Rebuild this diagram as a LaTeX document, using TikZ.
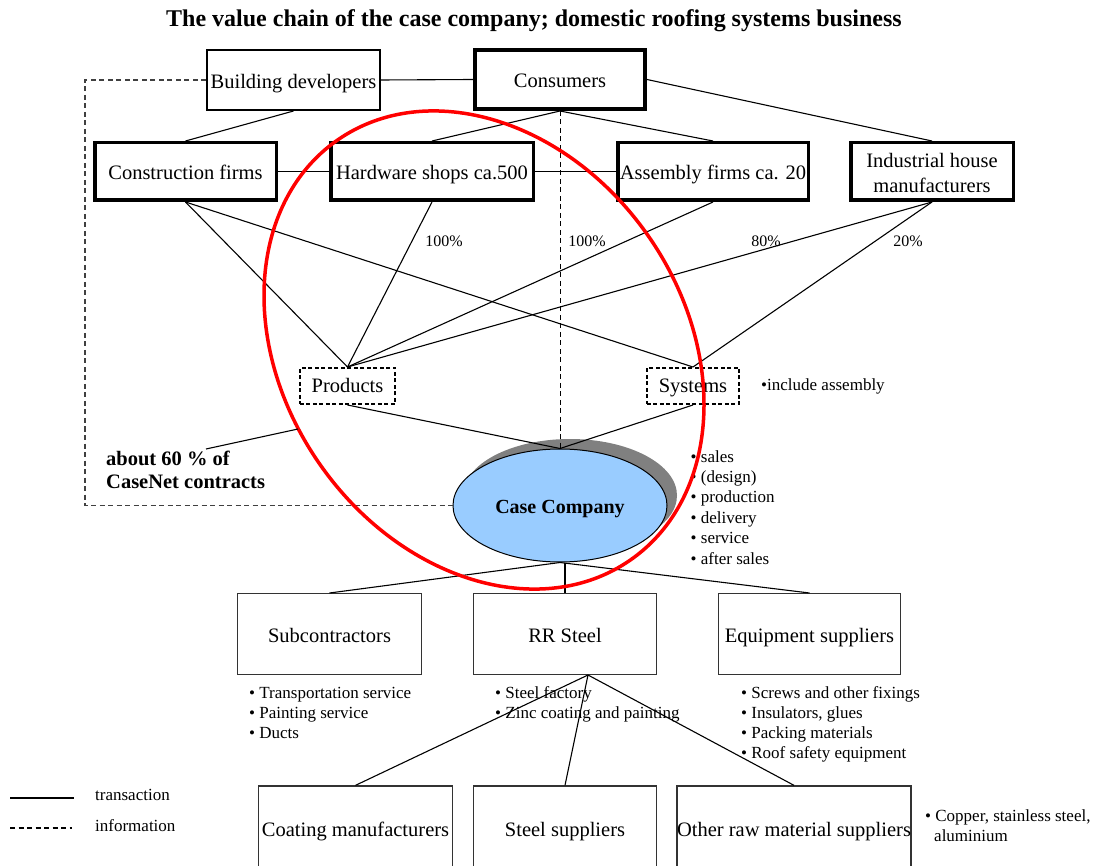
\documentclass[tikz,border=0pt]{standalone}
\usepackage{fontspec}
\setmainfont{Liberation Serif}
\usetikzlibrary{calc,shapes.geometric}
\definecolor{shadowgray}{RGB}{128,128,128}
\definecolor{ccblue}{RGB}{153,204,255}
\begin{document}
\begin{tikzpicture}[x=1pt,y=-1pt,
  boxfont/.style={font=\fontsize{20.5}{24.5}\selectfont},
  bulletfont/.style={font=\fontsize{17}{20}\selectfont},
  onetext/.style={text height=20pt, text depth=3pt},
  topbox/.style={draw, line width=3.5pt, boxfont, inner sep=0pt, align=center},
  lowbox/.style={draw=black!80, line width=1.3pt, boxfont, onetext, inner sep=0pt, minimum height=80.7},
  optbox/.style={draw, dash pattern=on 4pt off 2.5pt, line width=1.8pt, boxfont, text height=17.5pt, text depth=3.5pt, inner sep=0pt, minimum height=36.2},
  trans/.style={line width=1.1pt},
  info/.style={line width=1.2pt, dash pattern=on 5pt off 3.5pt, black!75},
  pct/.style={font=\fontsize{16}{19}\selectfont, anchor=base, inner sep=0pt},
  bulletline/.style={bulletfont, anchor=base west, inner sep=0pt},
  boldnote/.style={font=\bfseries\fontsize{20.5}{23}\selectfont, anchor=base west, inner sep=0pt},
]
\useasboundingbox (0,0) rectangle (1095,866);

% title
\node[anchor=base, inner sep=0pt, font=\bfseries\fontsize{24}{28}\selectfont] (title) at (534,27)
  {The value chain of the case company; domestic roofing systems business};

% customer side
\node[topbox, onetext, line width=2.4pt, minimum width=172.6, minimum height=59.6] (bd) at (293.5,80) {Building developers};
\node[topbox, onetext, line width=4pt, minimum width=170, minimum height=59] (cons) at (560,79.5) {Consumers};
\node[topbox, onetext, minimum width=181.5, minimum height=57.5] (cf) at (185.5,171.5) {Construction firms};
\node[topbox, onetext, minimum width=202.5, minimum height=57.5] (hw) at (432,171.5) {Hardware shops ca.500};
\node[topbox, onetext, minimum width=190.5, minimum height=57.5] (af) at (713,171.5) {Assembly firms ca. 20};
\node[topbox, minimum width=162.5, minimum height=57.5] (ihm) at (932,171.5) {\rule{0pt}{17pt}Industrial house\\manufacturers};

% offerings
\node[optbox, minimum width=95.2] (prod) at (347.5,386) {Products};
\node[optbox, minimum width=92.2] (sys) at (693,386) {Systems};

% the company itself
\fill[shadowgray] (570,495.5) ellipse [x radius=107, y radius=56.5];
\node[ellipse, draw, fill=ccblue, line width=1pt, minimum width=214, minimum height=113, inner sep=0pt,
      text height=18pt, text depth=3pt,
      font=\bfseries\fontsize{20}{24}\selectfont] (cc) at (560,505.5) {Case Company};

% supplier side
\node[lowbox, minimum width=183.7] (sub) at (329.5,634) {Subcontractors};
\node[lowbox, minimum width=182.7] (rr) at (565,634) {RR Steel};
\node[lowbox, minimum width=181.7] (eq) at (809.5,634) {Equipment suppliers};
\node[lowbox, minimum width=193.7, minimum height=84] (coat) at (355.5,828) {Coating manufacturers};
\node[lowbox, minimum width=182.7, minimum height=84] (steel) at (565,828) {Steel suppliers};
\node[lowbox, minimum width=232.7, minimum height=84] (other) at (794,828) {Other raw material suppliers};

% transactions
\draw[trans] (bd.east) -- (cons.west);
\draw[trans] (bd.south) -- (cf.north);
\draw[trans] (cons.south) -- (hw.north);
\draw[trans] (cons.south) -- (af.north);
\draw[trans] (cons.east) -- (ihm.north);
\draw[trans] (cf.east) -- (hw.west);
\draw[trans] (hw.east) -- (af.west);
\draw[trans] (cf.south) -- (prod.north);
\draw[trans] (cf.south) -- (sys.north);
\draw[trans] (hw.south) -- (prod.north);
\draw[trans] (af.south) -- (prod.north);
\draw[trans] (ihm.south) -- (prod.north);
\draw[trans] (ihm.south) -- (sys.north);
\draw[trans] (prod.south) -- (cc.north);
\draw[trans] (sys.south) -- (cc.north);
\draw[trans] (cc.south) -- (sub.north);
\draw[trans] (cc.south -| rr.north) -- (rr.north);
\draw[trans] (cc.south) -- (eq.north);
\coordinate (rrfoot) at ($(rr.south)+(23,0)$);
\draw[trans] (rrfoot) -- (coat.north);
\draw[trans] (rrfoot) -- (steel.north);
\draw[trans] (rrfoot) -- (other.north);

% information flows
\coordinate (dcorner) at (85,505.5);
\draw[info] (bd.west) -| (dcorner) -- (cc.west);
\draw[info, line width=1pt, black] (cons.south) -- (cc.north);

% shares
\node[pct] (p1) at (444,247) {100\%};
\node[pct] (p2) at (587,247) {100\%};
\node[pct] (p3) at (766,247) {80\%};
\node[pct] (p4) at (908,247) {20\%};

% notes
\node[bulletline] (incl) at (761,391) {•include assembly};
\node[bulletline] (cc1) at (690.5,462) {• sales};
\node[bulletline] (cc2) at (690.5,482.4) {• (design)};
\node[bulletline] (cc3) at (690.5,502.8) {• production};
\node[bulletline] (cc4) at (690.5,523.2) {• delivery};
\node[bulletline] (cc5) at (690.5,543.6) {• service};
\node[bulletline] (cc6) at (690.5,564) {• after sales};

\node[bulletline] (sb1) at (249,698) {• Transportation service};
\node[bulletline] (sb2) at (249,718) {• Painting service};
\node[bulletline] (sb3) at (249,738) {• Ducts};

\node[bulletline] (rs1) at (495,698) {• Steel factory};
\node[bulletline] (rs2) at (495,718) {• Zinc coating and painting};

\node[bulletline] (eq1) at (741,698) {• Screws and other fixings};
\node[bulletline] (eq2) at (741,718) {• Insulators, glues};
\node[bulletline] (eq3) at (741,738) {• Packing materials};
\node[bulletline] (eq4) at (741,758) {• Roof safety equipment};

\node[bulletline] (cu1) at (925,821) {• Copper, stainless steel,};
\node[bulletline] (cu2) at (934,841) {aluminium};

\node[boldnote] (share1) at (106,465) {about 60 \% of};
\node[boldnote] (share2) at (106,488) {CaseNet contracts};

% highlighted area
\begin{scope}[shift={(484,350)}, rotate=-55]
  \draw[red, line width=3.5pt] (0,0) ellipse [x radius=256, y radius=200];
\end{scope}
\coordinate (callA) at (206,449);
\coordinate (callB) at (298,429);
\draw[trans] (callA) -- (callB);

% legend
\coordinate (l1a) at (10,798);
\coordinate (l1b) at (74,798);
\draw[trans] (l1a) -- (l1b);
\node[bulletline] (lg1) at (95,800) {transaction};
\coordinate (l2a) at (10,828);
\coordinate (l2b) at (72,828);
\draw[line width=1.1pt, dash pattern=on 5pt off 3.5pt] (l2a) -- (l2b);
\node[bulletline] (lg2) at (95,831.5) {information};
\end{tikzpicture}
\end{document}
